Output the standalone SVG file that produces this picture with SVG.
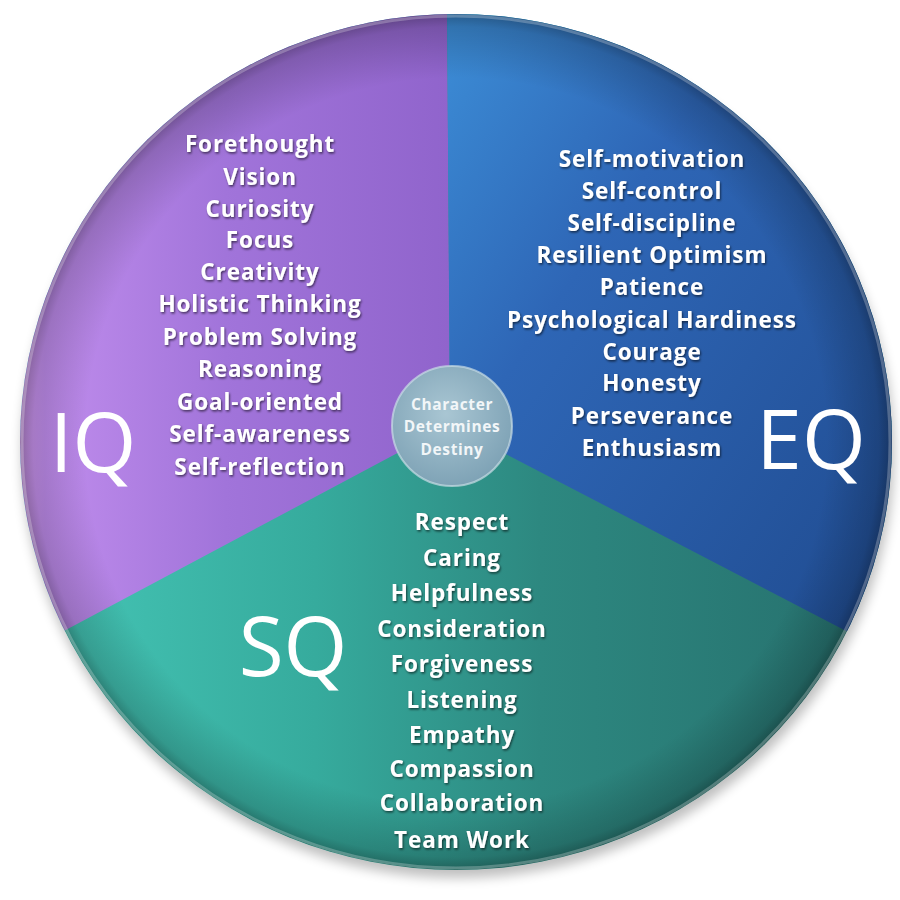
<svg xmlns="http://www.w3.org/2000/svg" width="900" height="900" viewBox="0 0 900 900">
<defs>
<clipPath id="disc"><ellipse cx="456" cy="442" rx="436" ry="428"/></clipPath>
<linearGradient id="gPurple" x1="0" y1="0" x2="1" y2="0">
<stop offset="0" stop-color="#e8aafc"/>
<stop offset="0.1" stop-color="#bf8cec"/>
<stop offset="0.5" stop-color="#a174da"/>
<stop offset="1" stop-color="#9064cc"/>
</linearGradient>
<linearGradient id="gBlue" x1="0" y1="0" x2="1" y2="1">
<stop offset="0" stop-color="#3d8fd8"/>
<stop offset="0.35" stop-color="#2e66b6"/>
<stop offset="1" stop-color="#1f4a8e"/>
</linearGradient>
<linearGradient id="gTeal" x1="0" y1="0" x2="1" y2="0">
<stop offset="0" stop-color="#47c9b9"/>
<stop offset="0.35" stop-color="#36ab9d"/>
<stop offset="0.6" stop-color="#2d8880"/>
<stop offset="1" stop-color="#266e6c"/>
</linearGradient>
<radialGradient id="gShade" cx="0.5" cy="0.5" r="0.5">
<stop offset="0.85" stop-color="#000" stop-opacity="0"/>
<stop offset="0.97" stop-color="#000" stop-opacity="0.18"/>
<stop offset="1" stop-color="#000" stop-opacity="0.35"/>
</radialGradient>
<radialGradient id="gHub" cx="0.45" cy="0.4" r="0.6">
<stop offset="0" stop-color="#a9c6d3"/>
<stop offset="1" stop-color="#7fa3b6"/>
</radialGradient>
<filter id="sh" x="-10%" y="-30%" width="120%" height="160%">
<feDropShadow dx="1" dy="1.5" stdDeviation="0.8" flood-color="#000" flood-opacity="0.6"/>
</filter>
<filter id="blur" x="-10%" y="-10%" width="120%" height="120%">
<feGaussianBlur stdDeviation="6"/>
</filter>
</defs>
<style>
.item{font-family:"Open Sans","DejaVu Sans",sans-serif;font-weight:700;font-size:22.5px;letter-spacing:0.9px;fill:#fff;text-anchor:middle;filter:url(#sh)}
.big{font-family:"Open Sans","DejaVu Sans",sans-serif;font-weight:400;font-size:82px;fill:#fff;text-anchor:middle}
.hub{font-family:"Open Sans","DejaVu Sans",sans-serif;font-weight:700;font-size:15.5px;letter-spacing:0.6px;fill:#f2f6f8;text-anchor:middle}
</style>
<rect width="900" height="900" fill="#fff"/>
<ellipse cx="458" cy="452" rx="436" ry="426" fill="#000" opacity="0.25" filter="url(#blur)"/>
<g clip-path="url(#disc)">
<g id="sq">
<rect x="0" y="0" width="900" height="900" fill="url(#gTeal)"/>
</g>
<g id="iq">
<polygon points="450,425 447,0 0,0 0,665" fill="url(#gPurple)"/>
</g>
<g id="eq">
<polygon points="450,425 447,0 900,0 900,659" fill="url(#gBlue)"/>
</g>
<ellipse cx="456" cy="442" rx="436" ry="428" fill="url(#gShade)"/>
</g>
<ellipse cx="456" cy="442" rx="434" ry="426" fill="none" stroke="#ffffff" stroke-opacity="0.25" stroke-width="3"/>
<g id="iq-text">
<text class="big" x="93" y="472">IQ</text>
<text class="item" x="260" y="152">Forethought</text>
<text class="item" x="260" y="185">Vision</text>
<text class="item" x="260" y="217">Curiosity</text>
<text class="item" x="260" y="248">Focus</text>
<text class="item" x="260" y="280">Creativity</text>
<text class="item" x="260" y="312">Holistic Thinking</text>
<text class="item" x="260" y="345">Problem Solving</text>
<text class="item" x="260" y="377">Reasoning</text>
<text class="item" x="260" y="410">Goal-oriented</text>
<text class="item" x="260" y="442">Self-awareness</text>
<text class="item" x="260" y="475">Self-reflection</text>
</g>
<g id="eq-text">
<text class="big" x="811" y="469">EQ</text>
<text class="item" x="652" y="167">Self-motivation</text>
<text class="item" x="652" y="199">Self-control</text>
<text class="item" x="652" y="231">Self-discipline</text>
<text class="item" x="652" y="263">Resilient Optimism</text>
<text class="item" x="652" y="295">Patience</text>
<text class="item" x="652" y="328">Psychological Hardiness</text>
<text class="item" x="652" y="360">Courage</text>
<text class="item" x="652" y="391">Honesty</text>
<text class="item" x="652" y="424">Perseverance</text>
<text class="item" x="652" y="456">Enthusiasm</text>
</g>
<g id="sq-text">
<text class="big" x="293" y="676">SQ</text>
<text class="item" x="462" y="530">Respect</text>
<text class="item" x="462" y="566">Caring</text>
<text class="item" x="462" y="601">Helpfulness</text>
<text class="item" x="462" y="637">Consideration</text>
<text class="item" x="462" y="672">Forgiveness</text>
<text class="item" x="462" y="708">Listening</text>
<text class="item" x="462" y="743">Empathy</text>
<text class="item" x="462" y="777">Compassion</text>
<text class="item" x="462" y="811">Collaboration</text>
<text class="item" x="462" y="848">Team Work</text>
</g>
<g id="hub">
<circle cx="452" cy="426" r="60" fill="url(#gHub)" stroke="#c9dde6" stroke-opacity="0.7" stroke-width="2"/>
<text class="hub" x="452" y="410">Character</text>
<text class="hub" x="452" y="432">Determines</text>
<text class="hub" x="452" y="455">Destiny</text>
</g>
</svg>
